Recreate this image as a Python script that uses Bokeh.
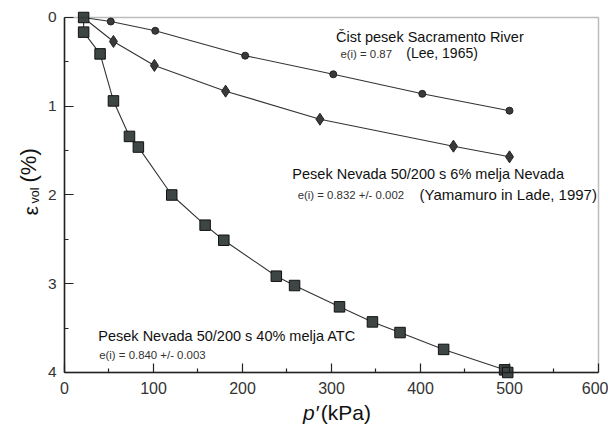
from bokeh.plotting import figure
from bokeh.models import Range1d, FixedTicker, Label, BoxAnnotation
from bokeh.embed import file_html
from bokeh.resources import INLINE

# Data (p' in kPa, volumetric strain in %)
sac_p = [21, 52, 102, 203, 302, 402, 500]
sac_e = [0.0, 0.045, 0.15, 0.43, 0.64, 0.86, 1.05]

nev6_p = [21, 55, 101, 181, 287, 437, 500]
nev6_e = [0.0, 0.27, 0.54, 0.83, 1.146, 1.45, 1.57]

atc_p = [21.5, 21.5, 40, 55, 73, 83, 120.5, 158, 179, 238, 258.5, 309, 346, 377, 426, 494.5, 498]
atc_e = [0.0, 0.165, 0.41, 0.94, 1.34, 1.46, 2.0, 2.34, 2.51, 2.915, 3.02, 3.26, 3.43, 3.55, 3.74, 3.97, 4.0]

x_ticks = [0, 100, 200, 300, 400, 500, 600]
x_minor = [50, 150, 250, 350, 450, 550]
y_ticks = [0, 1, 2, 3, 4]
y_minor = [0.5, 1.5, 2.5, 3.5]

FONT = "Liberation Sans"

# frame covers the whole canvas; axes are drawn at fixed data locations
p = figure(width=608, height=426, output_backend="svg", toolbar_location=None,
           x_range=Range1d(-71.91, 611.24), y_range=Range1d(4.6085, -0.1915),
           min_border=0)
p.background_fill_color = "white"
p.border_fill_color = "white"
p.grid.visible = False
p.outline_line_color = None

p.xaxis.fixed_location = 4
p.yaxis.fixed_location = 0
p.xaxis.bounds = (0, 600)
p.yaxis.bounds = (0, 4)

for ax, ticks, minor in ((p.xaxis[0], x_ticks, x_minor), (p.yaxis[0], y_ticks, y_minor)):
    ax.ticker = FixedTicker(ticks=ticks, minor_ticks=minor)
    ax.axis_line_color = "#222222"
    ax.axis_line_width = 1.5
    ax.major_tick_in = 9
    ax.major_tick_out = 0
    ax.minor_tick_in = 4
    ax.minor_tick_out = 0
    ax.major_tick_line_color = "#222222"
    ax.minor_tick_line_color = "#222222"
    ax.major_tick_line_width = 1.2
    ax.minor_tick_line_width = 1.2
    ax.major_label_text_font = FONT
    ax.major_label_text_color = "#333333"

p.xaxis.major_label_text_font_size = "16px"
p.yaxis.major_label_text_font_size = "15.5px"
p.xaxis.major_label_standoff = 10
p.yaxis.major_label_standoff = 8

# frame box (top and right edges)
p.add_layout(BoxAnnotation(left=0, right=600, top=0, bottom=4, fill_color=None,
                           line_color="#222222", line_width=1.5))

line_color = "#333333"
# Sacramento River (circles)
p.line(sac_p, sac_e, line_color=line_color, line_width=1.1)
p.scatter(sac_p[1:], sac_e[1:], marker="circle", size=7, fill_color="#3a3a3a", line_color="#222222")
# Nevada 6% (diamonds)
p.line(nev6_p, nev6_e, line_color=line_color, line_width=1.1)
p.scatter(nev6_p[1:], nev6_e[1:], marker="diamond", size=12, fill_color="#3a3a3a", line_color="#222222")
# Nevada 40% ATC (squares)
p.line(atc_p, atc_e, line_color=line_color, line_width=1.1)
p.scatter(atc_p, atc_e, marker="square", size=10.5, fill_color="#3d4644", line_color="#111111", line_width=1)

def lab(x, y, t, size, color="#111111", style="normal", align="left", baseline="middle", angle=0):
    p.add_layout(Label(x=x, y=y, text=t, text_font=FONT, text_font_size=size, text_color=color,
                       text_font_style=style, text_align=align, text_baseline=baseline, angle=angle))

lab(305, 0.225, "Čist pesek Sacramento River", "14.5px")
lab(310, 0.41, "e(i) = 0.87", "11.4px", "#333333")
lab(384, 0.40, "(Lee, 1965)", "14px")
lab(256, 1.76, "Pesek Nevada 50/200 s 6% melja Nevada", "14.5px")
lab(262, 2.00, "e(i) = 0.832 +/- 0.002", "11.4px", "#333333")
lab(399, 2.00, "(Yamamuro in Lade, 1997)", "15px")
lab(38, 3.594, "Pesek Nevada 50/200 s 40% melja ATC", "14.5px")
lab(39, 3.80, "e(i) = 0.840 +/- 0.003", "11.4px", "#333333")

# y-axis label (rotated, drawn as pieces)
lab(-38.2, 2.231, "ε", "21px", baseline="alphabetic", angle=1.5708)
lab(-32.8, 2.096, "vol", "12.5px", baseline="alphabetic", angle=1.5708)
lab(-39.9, 1.859, "(%)", "22px", baseline="alphabetic", angle=1.5708)

# x-axis label
lab(268, 4.45, "p′", "21px", style="italic", baseline="alphabetic")
lab(288, 4.45, "(kPa)", "21px", baseline="alphabetic")

open("out.html", "w").write(file_html(p, INLINE))
